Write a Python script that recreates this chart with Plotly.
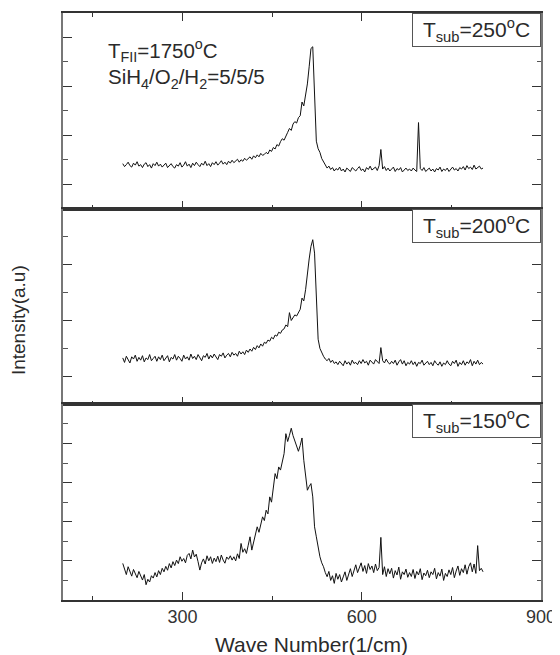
import plotly.graph_objects as go
from plotly.subplots import make_subplots

# sampling grid (wave number, 1/cm)
wavenumber = list(range(200, 804, 3))

# T_sub = 250 C (top panel)
intensity_250 = [
    1.84, 1.72, 1.80, 1.90, 1.76, 1.70, 1.86, 1.78, 1.92, 1.74,
    1.80, 1.68, 1.82, 1.88, 1.72, 1.80, 1.66, 1.84, 1.76, 1.90,
    1.74, 1.82, 1.70, 1.78, 1.86, 1.68, 1.76, 1.84, 1.72, 1.66,
    1.80, 1.74, 1.88, 1.70, 1.78, 1.92, 1.74, 1.82, 1.68, 1.86,
    1.76, 1.90, 1.80, 1.72, 1.86, 1.78, 1.94, 1.76, 1.84, 1.72,
    1.88, 1.80, 1.92, 1.78, 1.86, 1.96, 1.82, 1.90, 1.80, 1.94,
    1.86, 1.98, 1.88, 1.94, 2.02, 1.90, 2.00, 1.94, 2.06, 1.98,
    2.04, 2.12, 2.02, 2.16, 2.08, 2.20, 2.12, 2.26, 2.18, 2.22,
    2.30, 2.24, 2.40, 2.34, 2.50, 2.44, 2.62, 2.56, 2.74, 2.86,
    2.80, 3.00, 3.12, 3.28, 3.20, 3.46, 3.56, 3.50, 3.72, 3.80,
    4.36, 4.20, 4.60, 5.10, 5.80, 6.55, 6.62, 4.60, 2.76, 2.45,
    2.30, 2.05, 1.90, 1.80, 1.66, 1.74, 1.60, 1.68, 1.54, 1.64,
    1.58, 1.70, 1.54, 1.62, 1.50, 1.66, 1.58, 1.52, 1.68, 1.60,
    1.54, 1.64, 1.72, 1.56, 1.62, 1.50, 1.68, 1.60, 1.74, 1.58,
    1.64, 1.70, 1.56, 1.76, 2.42, 1.62, 1.72, 1.56, 1.66, 1.54,
    1.62, 1.70, 1.52, 1.64, 1.58, 1.68, 1.50, 1.60, 1.66, 1.56,
    1.62, 1.54, 1.66, 1.58, 1.52, 3.52, 1.64, 1.56, 1.68, 1.52,
    1.60, 1.66, 1.54, 1.62, 1.50, 1.64, 1.58, 1.70, 1.52, 1.62,
    1.56, 1.66, 1.52, 1.60, 1.70, 1.58, 1.64, 1.54, 1.68, 1.62,
    1.72, 1.58, 1.76, 1.64, 1.70, 1.60, 1.78, 1.62, 1.68, 1.74,
    1.62, 1.66,
]

# T_sub = 200 C (middle panel)
intensity_200 = [
    1.66, 1.50, 1.72, 1.58, 1.48, 1.70, 1.62, 1.76, 1.54, 1.68,
    1.58, 1.74, 1.52, 1.66, 1.60, 1.78, 1.56, 1.64, 1.72, 1.54,
    1.70, 1.60, 1.76, 1.56, 1.66, 1.74, 1.52, 1.68, 1.62, 1.78,
    1.58, 1.72, 1.64, 1.54, 1.76, 1.62, 1.70, 1.58, 1.80, 1.64,
    1.72, 1.60, 1.78, 1.66, 1.56, 1.74, 1.68, 1.82, 1.62, 1.76,
    1.66, 1.80, 1.70, 1.60, 1.78, 1.72, 1.84, 1.66, 1.76, 1.82,
    1.70, 1.86, 1.76, 1.82, 1.72, 1.90, 1.80, 1.88, 1.78, 1.94,
    1.86, 1.98, 1.90, 2.04, 1.96, 2.10, 2.02, 2.16, 2.08, 2.22,
    2.18, 2.30, 2.26, 2.40, 2.34, 2.48, 2.44, 2.58, 2.54, 2.66,
    2.70, 2.84, 2.78, 3.28, 3.00, 3.08, 3.20, 3.16, 3.30, 3.40,
    3.80, 3.70, 4.10, 4.75, 5.20, 5.65, 5.89, 5.41, 3.99, 2.33,
    2.00, 1.82, 1.72, 1.62, 1.56, 1.64, 1.50, 1.58, 1.46, 1.52,
    1.42, 1.54, 1.46, 1.38, 1.56, 1.44, 1.52, 1.40, 1.58, 1.46,
    1.50, 1.42, 1.56, 1.46, 1.60, 1.48, 1.54, 1.40, 1.58, 1.50,
    1.44, 1.60, 1.52, 1.46, 2.03, 1.56, 1.48, 1.62, 1.50, 1.44,
    1.54, 1.46, 1.58, 1.40, 1.52, 1.60, 1.44, 1.56, 1.38, 1.50,
    1.44, 1.56, 1.42, 1.52, 1.36, 1.50, 1.46, 1.58, 1.40, 1.48,
    1.54, 1.42, 1.50, 1.38, 1.56, 1.46, 1.40, 1.52, 1.36, 1.48,
    1.42, 1.56, 1.44, 1.38, 1.54, 1.46, 1.58, 1.36, 1.50, 1.42,
    1.56, 1.40, 1.52, 1.46, 1.60, 1.38, 1.54, 1.44, 1.58, 1.42,
    1.50, 1.44,
]

# T_sub = 150 C (bottom panel)
intensity_150 = [
    1.87, 1.60, 1.30, 1.70, 1.50, 1.22, 1.56, 1.34, 1.14, 1.46,
    1.20, 1.02, 1.30, 0.78, 1.06, 0.92, 1.24, 1.12, 1.40, 1.18,
    1.50, 1.30, 1.62, 1.44, 1.72, 1.52, 1.86, 1.64, 1.96, 1.76,
    2.04, 1.86, 2.21, 1.98, 2.12, 1.90, 2.28, 2.38, 2.10, 2.55,
    2.20, 2.34, 1.96, 1.53, 1.90, 2.10, 1.84, 2.26, 2.00, 2.21,
    1.87, 2.14, 1.96, 2.24, 1.92, 2.30, 2.04, 1.88, 2.20, 2.08,
    2.26, 2.04, 2.21, 2.00, 2.36, 2.12, 2.89, 2.44, 2.62, 2.38,
    2.80, 3.23, 2.55, 3.00, 3.40, 3.74, 3.46, 3.90, 4.25, 4.06,
    4.59, 4.40, 5.27, 5.00, 5.78, 6.46, 6.20, 6.80, 6.64, 7.14,
    7.48, 8.50, 8.10, 8.42, 8.78, 8.40, 8.16, 7.82, 7.60, 7.90,
    8.28, 7.14, 6.20, 5.61, 5.80, 5.95, 5.27, 3.74, 3.23, 2.60,
    2.21, 1.90, 1.70, 1.40, 1.19, 1.46, 1.00, 1.24, 0.85, 1.36,
    1.06, 1.30, 0.92, 1.18, 1.44, 1.00, 1.36, 1.60, 1.20, 1.52,
    1.80, 1.40, 1.70, 1.90, 1.46, 1.76, 1.36, 1.86, 1.56, 1.74,
    1.40, 1.84, 1.50, 1.66, 3.20, 1.30, 1.70, 1.20, 1.60, 1.34,
    1.62, 1.12, 1.50, 1.28, 1.68, 1.06, 1.44, 1.30, 1.58, 1.16,
    1.40, 1.20, 1.56, 1.10, 1.46, 1.28, 1.60, 1.04, 1.38, 1.24,
    1.52, 1.14, 1.44, 1.30, 1.62, 1.08, 1.40, 1.22, 1.58, 1.00,
    1.36, 1.20, 1.54, 1.30, 1.66, 1.14, 1.48, 1.74, 1.26, 1.60,
    1.40, 1.80, 1.32, 1.70, 1.90, 1.44, 1.84, 1.36, 2.78, 1.50,
    1.62, 1.44,
]

panel_series = [intensity_250, intensity_200, intensity_150]
panel_labels = ["250", "200", "150"]
panel_yranges = [[0, 8], [0, 7], [0, 10]]
panel_tick0 = [1, 1, 0]

x_tick_values = [300, 600, 900]
x_tick_labels = ["300", "600", "900"]

FONT = "Liberation Sans, Arial, sans-serif"
TXT = "#2a2a2a"

fig = make_subplots(rows=3, cols=1, shared_xaxes=True, vertical_spacing=0)

for i, ys in enumerate(panel_series):
    fig.add_trace(
        go.Scatter(x=wavenumber, y=ys, mode="lines",
                   line=dict(color="#111111", width=1), showlegend=False),
        row=i + 1, col=1,
    )

for i in range(3):
    r = i + 1
    fig.update_xaxes(
        range=[100, 900], tickmode="array", tickvals=x_tick_values,
        ticktext=x_tick_labels, ticks="inside", ticklen=8, tickwidth=1,
        tickcolor="#333333", showline=True, linecolor="#333333", linewidth=1.5,
        mirror=("ticks" if i == 0 else True), showgrid=False, zeroline=False,
        minor=dict(dtick=150, tick0=0, ticks="inside", ticklen=4,
                   tickcolor="#333333", tickwidth=1, showgrid=False),
        tickfont=dict(family=FONT, size=18, color="#333333"),
        row=r, col=1,
    )
    fig.update_yaxes(
        range=panel_yranges[i], tickmode="linear", tick0=panel_tick0[i], dtick=2,
        ticks="inside", ticklen=9, tickwidth=1, tickcolor="#333333",
        showticklabels=False, showline=True, linecolor="#777777", linewidth=2,
        mirror="ticks", showgrid=False, zeroline=False,
        minor=dict(dtick=1, tick0=0, ticks="inside", ticklen=4.5,
                   tickcolor="#555555", tickwidth=1, showgrid=False),
        row=r, col=1,
    )

fig.update_xaxes(showticklabels=True, row=3, col=1)

annotations = []
yrefs = ["y domain", "y2 domain", "y3 domain"]
xrefs = ["x domain", "x2 domain", "x3 domain"]
for i in range(3):
    annotations.append(dict(
        text="T<sub>sub</sub>=" + panel_labels[i] + "<sup>o</sup>C",
        xref=xrefs[i], yref=yrefs[i], x=1, y=1, xanchor="right", yanchor="top",
        showarrow=False, font=dict(family=FONT, size=21, color=TXT),
        bordercolor="#555555", borderwidth=1, borderpad=0,
        width=127, height=32, bgcolor="white", align="center", valign="middle",
    ))

annotations.append(dict(
    text="T<sub>FII</sub>=1750<sup>o</sup>C<br>SiH<sub>4</sub>/O<sub>2</sub>/H<sub>2</sub>=5/5/5",
    xref="x domain", yref="y domain", x=0.09, y=0.895, xanchor="left", yanchor="top",
    showarrow=False, align="left", font=dict(family=FONT, size=20.5, color=TXT),
))

annotations.append(dict(
    text="Wave Number(1/cm)", xref="paper", yref="paper", x=0.52, y=-0.076,
    xanchor="center", yanchor="middle", showarrow=False,
    font=dict(family=FONT, size=21, color=TXT),
))
annotations.append(dict(
    text="Intensity(a.u)", xref="paper", yref="paper", x=-0.094, y=0.477,
    xanchor="center", yanchor="middle", textangle=-90, showarrow=False,
    font=dict(family=FONT, size=19, color=TXT),
))

# the page body adds an 8px margin, so margins are shifted to compensate
fig.update_layout(
    width=560, height=647,
    margin=dict(l=55, r=27, t=3, b=55),
    plot_bgcolor="white", paper_bgcolor="white",
    annotations=annotations,
    font=dict(family=FONT, color=TXT),
)

fig.write_html("out.html")
